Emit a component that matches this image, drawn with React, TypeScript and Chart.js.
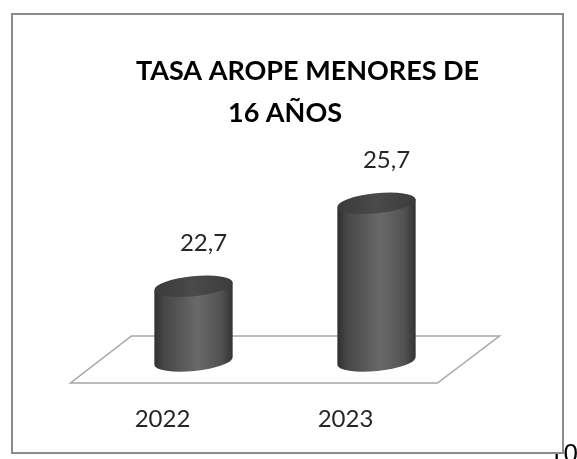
import React, { useEffect, useRef } from "react";
import { Chart, registerables } from "chart.js";

Chart.register(...registerables);

const categories = ["2022", "2023"];
const values = [22.7, 25.7];
const valueLabels = ["22,7", "25,7"];
const titleLines = ["TASA AROPE MENORES DE", "16 AÑOS"];
const axisMin = 20;
const axisMax = 26;

const W = 577;
const H = 459;

const cylinderPlugin = {
  id: "cylinders",
  beforeDraw(chart: any) {
    const ctx = chart.ctx;
    const area = chart.chartArea;
    ctx.save();
    ctx.fillStyle = "#ffffff";
    ctx.fillRect(0, 0, W, H);
    // page number partly hidden behind the chart box
    ctx.fillStyle = "#000000";
    ctx.font = "26px 'Liberation Sans', Arial, sans-serif";
    ctx.textBaseline = "alphabetic";
    ctx.textAlign = "left";
    ctx.fillText("10", 549, 462);
    // chart box
    ctx.fillStyle = "#ffffff";
    ctx.fillRect(12, 14, 551, 439);
    ctx.strokeStyle = "#8c8c8c";
    ctx.lineWidth = 2;
    ctx.strokeRect(12, 14, 551, 439);
    // title
    ctx.fillStyle = "#000000";
    ctx.font = "bold 27px Lato, 'Open Sans', sans-serif";
    ctx.textAlign = "center";
    ctx.fillText(titleLines[0], 307.5, 80);
    ctx.fillText(titleLines[1], 285, 122);
    // floor
    const L = area.left, R = area.right, B = area.bottom;
    ctx.strokeStyle = "#a6a6a6";
    ctx.lineWidth = 1.5;
    ctx.beginPath();
    ctx.moveTo(L + 29.5, B - 25);
    ctx.lineTo(R + 31.5, B - 25);
    ctx.lineTo(R - 30.5, B + 22);
    ctx.lineTo(L - 31.5, B + 22);
    ctx.closePath();
    ctx.stroke();
    ctx.restore();
  },
  afterDatasetsDraw(chart: any) {
    const ctx = chart.ctx;
    const meta = chart.getDatasetMeta(0);
    const rot = -0.1;
    const ry = 10;
    ctx.save();
    meta.data.forEach((bar: any, i: number) => {
      const p = bar.getProps(["x", "y", "base", "width"], true);
      const cx = p.x;
      const rx = p.width / 2;
      const top = p.y;
      const base = p.base;
      const c = Math.cos(rot), s = Math.sin(rot);
      const pt = (cy: number, t: number) => [
        cx + rx * Math.cos(t) * c - ry * Math.sin(t) * s,
        cy + rx * Math.cos(t) * s + ry * Math.sin(t) * c,
      ];
      // body
      const g = ctx.createLinearGradient(cx - rx, 0, cx + rx, 0);
      g.addColorStop(0, "#2f2f2f");
      g.addColorStop(0.12, "#464646");
      g.addColorStop(0.55, "#696969");
      g.addColorStop(0.85, "#525252");
      g.addColorStop(1, "#333333");
      const tl = pt(top, Math.PI);
      const bl = pt(base, Math.PI);
      const tr = pt(top, 0);
      ctx.beginPath();
      ctx.moveTo(tl[0], tl[1]);
      ctx.lineTo(bl[0], bl[1]);
      ctx.ellipse(cx, base, rx, ry, rot, Math.PI, 0, true);
      ctx.lineTo(tr[0], tr[1]);
      ctx.closePath();
      ctx.fillStyle = g;
      ctx.fill();
      // top
      const tg = ctx.createLinearGradient(cx - rx, 0, cx + rx, 0);
      tg.addColorStop(0, "#3a3a3a");
      tg.addColorStop(0.5, "#4a4a4a");
      tg.addColorStop(1, "#3c3c3c");
      ctx.beginPath();
      ctx.ellipse(cx, top, rx, ry, rot, 0, Math.PI * 2);
      ctx.fillStyle = tg;
      ctx.fill();
      // labels
      ctx.fillStyle = "#262626";
      ctx.font = "24px Lato, 'Open Sans', sans-serif";
      ctx.textAlign = "center";
      ctx.textBaseline = "alphabetic";
      ctx.fillText(valueLabels[i], cx + 10, top - 35);
      const xs = chart.scales.x;
      ctx.fillText(categories[i], xs.getPixelForValue(i) - 31, 427);
    });
    ctx.restore();
  },
};

export default function App() {
  const ref = useRef<HTMLCanvasElement | null>(null);
  useEffect(() => {
    if (!ref.current) return;
    const chart = new Chart(ref.current, {
      type: "bar",
      data: {
        labels: categories,
        datasets: [
          {
            data: values,
            base: axisMin,
            backgroundColor: "rgba(0,0,0,0)",
            borderWidth: 0,
            barPercentage: 0.43,
            categoryPercentage: 1,
          } as any,
        ],
      },
      options: {
        responsive: false,
        animation: false,
        layout: { padding: { top: 195, bottom: 98, left: 102, right: 109 } },
        plugins: { legend: { display: false }, tooltip: { enabled: false }, title: { display: false } },
        scales: {
          x: { display: false },
          y: { display: false, min: axisMin, max: axisMax },
        },
      },
      plugins: [cylinderPlugin],
    });
    return () => chart.destroy();
  }, []);
  return (
    <div style={{ position: "absolute", left: 0, top: 0, width: W, height: H }}>
      <canvas ref={ref} width={W} height={H} style={{ display: "block" }} />
    </div>
  );
}
